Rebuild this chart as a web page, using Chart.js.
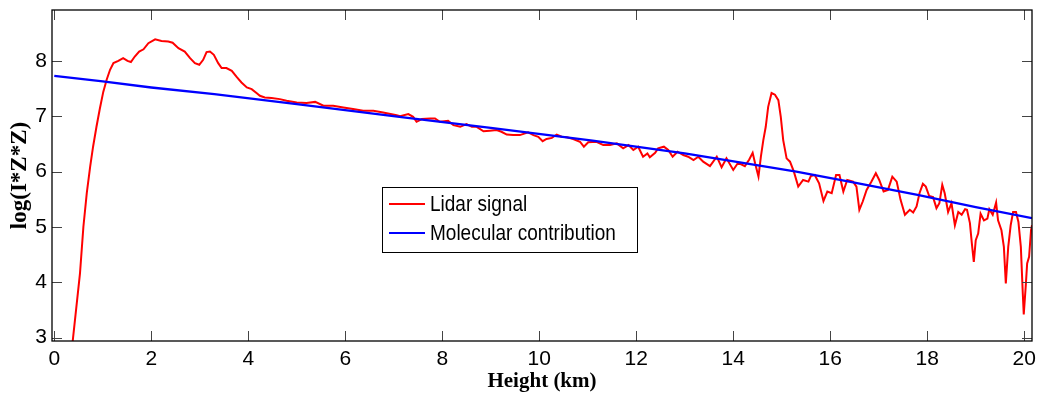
<!DOCTYPE html>
<html>
<head>
<meta charset="utf-8">
<script src="https://cdn.jsdelivr.net/npm/chart.js@4.4.1/dist/chart.umd.min.js"></script>
<style>
  html, body { margin: 0; padding: 0; background: #fff; }
  #wrap { width: 1039px; height: 398px; position: relative; }
</style>
</head>
<body>
<div id="wrap"><canvas id="c" width="1039" height="398"></canvas></div>
<script>
// ---- data ----
const seriesNames = ["Lidar signal", "Molecular contribution"];

const lidarHeight = [0.32, 0.38, 0.53, 0.60, 0.67, 0.74, 0.80, 0.87, 0.94, 1.01, 1.08, 1.15, 1.22, 1.32, 1.42, 1.51, 1.58, 1.66, 1.75, 1.84, 1.94, 2.08, 2.21, 2.35, 2.44, 2.56, 2.69, 2.80, 2.90, 2.99, 3.07, 3.14, 3.21, 3.29, 3.38,
  3.45, 3.55, 3.66, 3.76, 3.86, 3.97, 4.07, 4.17, 4.24, 4.34, 4.48, 4.65, 4.79, 5.00, 5.20, 5.38, 5.55, 5.75, 5.96, 6.16, 6.37, 6.58, 6.78, 7.06,
  7.13, 7.30, 7.40, 7.47, 7.58, 7.75, 7.85, 7.95, 8.12, 8.23, 8.37, 8.50, 8.61, 8.71, 8.85, 8.98, 9.12, 9.22, 9.33, 9.46, 9.60, 9.77, 9.88, 9.98, 10.07, 10.15, 10.26, 10.36, 10.46, 10.57, 10.70, 10.84, 10.92, 11.01, 11.18,
  11.32, 11.46, 11.60, 11.73, 11.84, 11.94, 12.04, 12.14, 12.23, 12.28, 12.39, 12.45, 12.57, 12.66, 12.75, 12.85, 12.97, 13.07, 13.18, 13.28, 13.38, 13.52, 13.66, 13.76, 13.86, 14.00, 14.10, 14.24, 14.33, 14.40, 14.45, 14.52, 14.57, 14.62, 14.67, 14.72, 14.79, 14.86, 14.93, 14.98, 15.03, 15.10, 15.17, 15.25,
  15.34, 15.44, 15.55, 15.60, 15.68, 15.77, 15.86, 15.94, 16.03, 16.12, 16.19, 16.27, 16.35, 16.47, 16.54, 16.60, 16.67, 16.75, 16.85, 16.94, 17.01, 17.10, 17.19, 17.28, 17.37, 17.45, 17.54,
  17.64, 17.71, 17.78, 17.84, 17.91, 17.97, 18.04, 18.12, 18.19, 18.25, 18.31, 18.36, 18.43, 18.50, 18.57, 18.64, 18.71, 18.78, 18.82, 18.88, 18.92, 18.96, 19.00, 19.05, 19.10, 19.17, 19.24, 19.28, 19.35, 19.42, 19.46, 19.53, 19.58, 19.62, 19.67, 19.72, 19.77, 19.83, 19.88, 19.93, 19.97, 19.99, 20.03, 20.06, 20.10, 20.14, 20.16];

const lidarSignal = [2.45, 2.94, 4.16, 5.00, 5.61, 6.09, 6.45, 6.81, 7.14, 7.44, 7.66, 7.84, 7.96, 8.00, 8.05, 8.00, 7.98, 8.08, 8.17, 8.21, 8.32, 8.39, 8.36, 8.35, 8.33, 8.23, 8.17, 8.05, 7.96, 7.93, 8.02, 8.16, 8.17, 8.11, 7.96,
  7.87, 7.87, 7.82, 7.71, 7.61, 7.52, 7.49, 7.42, 7.37, 7.34, 7.33, 7.31, 7.28, 7.25, 7.24, 7.26, 7.19, 7.19, 7.16, 7.13, 7.10, 7.10, 7.07, 7.02,
  7.00, 7.04, 6.99, 6.90, 6.95, 6.96, 6.96, 6.90, 6.92, 6.84, 6.81, 6.86, 6.81, 6.81, 6.73, 6.74, 6.75, 6.72, 6.67, 6.66, 6.66, 6.71, 6.66, 6.63, 6.55, 6.59, 6.61, 6.67, 6.63, 6.62, 6.59, 6.54, 6.45, 6.53, 6.54,
  6.48, 6.48, 6.51, 6.42, 6.48, 6.39, 6.45, 6.27, 6.33, 6.26, 6.34, 6.42, 6.45, 6.39, 6.27, 6.36, 6.30, 6.27, 6.21, 6.27, 6.18, 6.10, 6.27, 6.08, 6.24, 6.03, 6.16, 6.10, 6.22, 6.34, 6.15, 5.91, 6.27, 6.57, 6.81, 7.17, 7.42, 7.39, 7.29, 6.99, 6.57, 6.24, 6.18, 6.00,
  5.73, 5.85, 5.82, 5.92, 5.94, 5.79, 5.47, 5.64, 5.61, 5.94, 5.94, 5.64, 5.85, 5.82, 5.73, 5.31, 5.46, 5.67, 5.82, 5.97, 5.85, 5.64, 5.67, 5.91, 5.82, 5.49, 5.22,
  5.31, 5.26, 5.37, 5.61, 5.78, 5.73, 5.56, 5.54, 5.34, 5.43, 5.76, 5.61, 5.27, 5.43, 5.03, 5.27, 5.22, 5.32, 5.31, 5.07, 4.70, 4.37, 4.76, 4.88, 5.24, 5.12, 5.15, 5.32, 5.22, 5.44, 5.12, 4.94, 4.64, 3.98, 4.64, 5.03, 5.27, 5.27, 5.09, 4.64, 3.80, 3.42, 3.92, 4.34, 4.46, 4.94, 5.03];

const molecularHeight = [0, 1, 2, 3.3, 5, 7.2, 9, 11.1, 13, 15.3, 16.5, 17.8, 19, 20.16];
const molecularSignal = [7.73, 7.63, 7.52, 7.40, 7.22, 6.98, 6.79, 6.56, 6.33, 6.00, 5.80, 5.58, 5.36, 5.16];

const xTickValues = [0, 2, 4, 6, 8, 10, 12, 14, 16, 18, 20];
const yTickValues = [3, 4, 5, 6, 7, 8];
const xTitle = "Height (km)";
const yTitle = "log(I*Z*Z)";

const tickFont = { family: '"Liberation Sans", Arial, sans-serif', size: 21 };
const legendFontCss = '19px "Liberation Sans", Arial, sans-serif';

const toPts = (xs, ys) => xs.map((v, i) => ({ x: v, y: ys[i] }));

const boxPlugin = {
  id: 'matlabBox',
  afterDraw(chart) {
    const { ctx, chartArea: ca, scales: { x, y } } = chart;
    ctx.save();
    // inward ticks on all four sides
    ctx.strokeStyle = '#444';
    ctx.lineWidth = 1;
    ctx.beginPath();
    xTickValues.forEach(v => {
      const p = Math.round(x.getPixelForValue(v)) + 0.5;
      ctx.moveTo(p, ca.bottom); ctx.lineTo(p, ca.bottom - 10);
      ctx.moveTo(p, ca.top); ctx.lineTo(p, ca.top + 10);
    });
    yTickValues.forEach(v => {
      const p = Math.round(y.getPixelForValue(v)) + 0.5;
      ctx.moveTo(ca.left, p); ctx.lineTo(ca.left + 10, p);
      ctx.moveTo(ca.right, p); ctx.lineTo(ca.right - 10, p);
    });
    ctx.stroke();
    // box
    ctx.strokeStyle = '#000';
    ctx.lineWidth = 1.3;
    ctx.strokeRect(ca.left, ca.top, ca.right - ca.left, ca.bottom - ca.top);

    // legend
    const lx = 382, ly = 187, lw = 255, lh = 65;
    ctx.fillStyle = '#fff';
    ctx.fillRect(lx, ly, lw, lh);
    ctx.strokeStyle = '#000';
    ctx.lineWidth = 1;
    ctx.strokeRect(lx + 0.5, ly + 0.5, lw, lh);
    const rows = [204, 233];
    chart.data.datasets.forEach((ds, i) => {
      ctx.strokeStyle = ds.borderColor;
      ctx.lineWidth = 2;
      ctx.beginPath();
      ctx.moveTo(389, rows[i]); ctx.lineTo(425, rows[i]);
      ctx.stroke();
      ctx.save();
      ctx.translate(430, rows[i] + 1);
      ctx.scale(1, 1.18);
      ctx.fillStyle = '#000';
      ctx.font = legendFontCss;
      ctx.textBaseline = 'middle';
      ctx.textAlign = 'left';
      ctx.fillText(ds.label, 0, 0);
      ctx.restore();
    });
    ctx.restore();
  }
};

new Chart(document.getElementById('c'), {
  type: 'line',
  data: {
    datasets: [
      { label: seriesNames[0], data: toPts(lidarHeight, lidarSignal), borderColor: '#ff0000', borderWidth: 2, pointRadius: 0, tension: 0, order: 1 },
      { label: seriesNames[1], data: toPts(molecularHeight, molecularSignal), borderColor: '#0000ff', borderWidth: 2.4, pointRadius: 0, tension: 0, order: 0 }
    ]
  },
  options: {
    responsive: false,
    animation: false,
    events: [],
    layout: { padding: { top: 10, right: 7, left: 0, bottom: 0 } },
    plugins: { legend: { display: false }, tooltip: { enabled: false } },
    scales: {
      x: {
        type: 'linear',
        min: -0.047, max: 20.16,
        afterBuildTicks: s => { s.ticks = xTickValues.map(v => ({ value: v })); },
        afterFit: s => { s.height = 57; s.paddingLeft = 0; s.paddingRight = 0; },
        grid: { display: true, drawOnChartArea: false, drawTicks: false, color: 'rgba(0,0,0,0)' },
        border: { display: false },
        ticks: { color: '#000', font: tickFont, padding: 6, maxRotation: 0, autoSkip: false },
        title: { display: true, text: xTitle, color: '#000', font: { family: '"Liberation Serif", "Times New Roman", serif', size: 21, weight: 'bold' }, padding: { top: 0, bottom: 4 } }
      },
      y: {
        type: 'linear',
        min: 2.94, max: 8.92,
        afterBuildTicks: s => { s.ticks = yTickValues.map(v => ({ value: v })); },
        afterFit: s => { s.width = 52; s.paddingTop = 0; s.paddingBottom = 0; },
        grid: { display: true, drawOnChartArea: false, drawTicks: false, color: 'rgba(0,0,0,0)' },
        border: { display: false },
        ticks: { color: '#000', font: tickFont, padding: 5, autoSkip: false },
        title: { display: true, text: yTitle, color: '#000', font: { family: '"Liberation Serif", "Times New Roman", serif', size: 23, weight: 'bold' }, padding: { top: 6, bottom: 0 } }
      }
    }
  },
  plugins: [boxPlugin]
});
</script>
</body>
</html>
